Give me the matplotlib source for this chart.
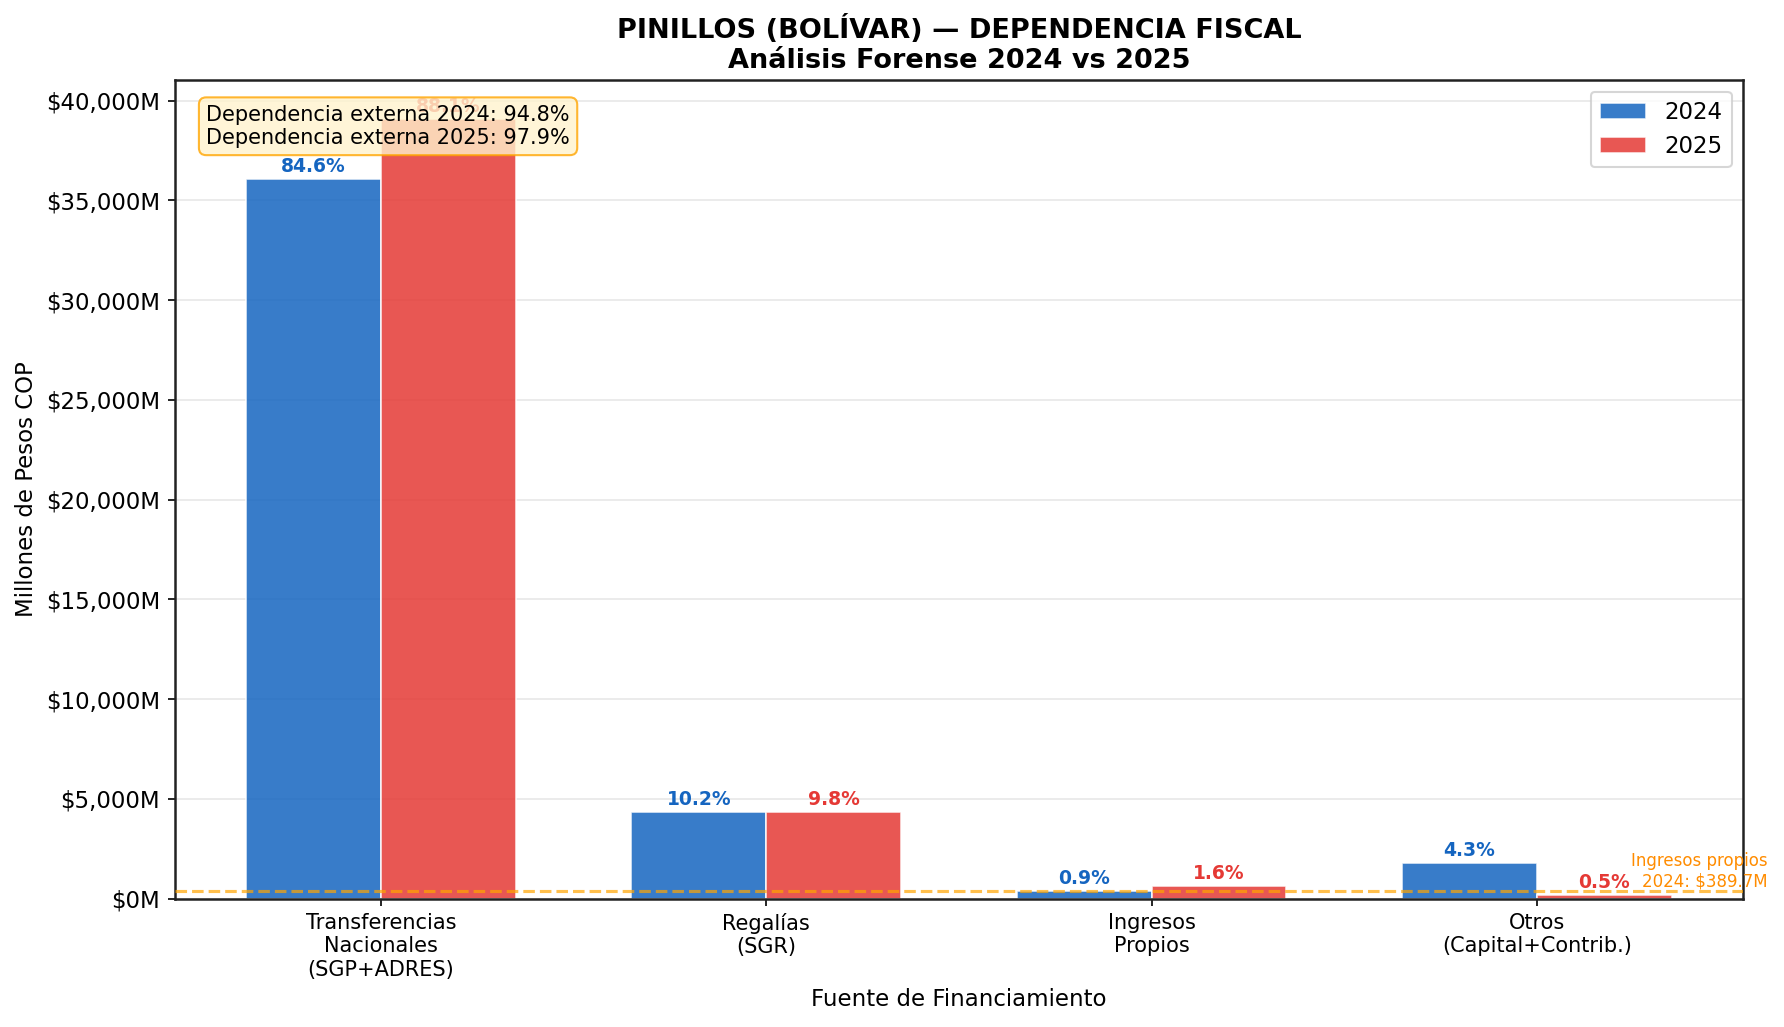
import matplotlib.pyplot as plt
import numpy as np
from matplotlib.ticker import FuncFormatter

# Data (millions of COP)
categorias = ['Transferencias\nNacionales\n(SGP+ADRES)', 'Regalías\n(SGR)',
              'Ingresos\nPropios', 'Otros\n(Capital+Contrib.)']
valores_2024 = [36060, 4330, 389.7, 1800]
valores_2025 = [39070, 4335, 650, 200]
pct_2024 = [84.6, 10.2, 0.9, 4.3]
pct_2025 = [88.1, 9.8, 1.6, 0.5]
dep_externa = {'2024': 94.8, '2025': 97.9}
ingresos_propios_2024 = 389.7

color_2024 = '#1565C0'
color_2025 = '#E53935'

fig, ax = plt.subplots(figsize=(1784 / 150, 1027 / 150), dpi=150)
fig.subplots_adjust(left=0.098, right=0.977, top=0.922, bottom=0.125)

x = np.arange(len(categorias))
w = 0.35

b1 = ax.bar(x - w / 2, valores_2024, w, label='2024', color=color_2024,
            alpha=0.85, edgecolor='white', linewidth=0.8, zorder=2)
b2 = ax.bar(x + w / 2, valores_2025, w, label='2025', color=color_2025,
            alpha=0.85, edgecolor='white', linewidth=0.8, zorder=2)

# percentage labels on top of bars
for rect, p in zip(b1, pct_2024):
    ax.text(rect.get_x() + rect.get_width() / 2, rect.get_height() + 150,
            f'{p:.1f}%', ha='center', va='bottom', fontsize=9,
            fontweight='bold', color=color_2024, zorder=3)
for rect, p in zip(b2, pct_2025):
    ax.text(rect.get_x() + rect.get_width() / 2, rect.get_height() + 150,
            f'{p:.1f}%', ha='center', va='bottom', fontsize=9,
            fontweight='bold', color=color_2025, zorder=3)

# own revenue reference line
ax.axhline(ingresos_propios_2024, color='orange', linestyle='--',
           linewidth=1.5, alpha=0.7, zorder=3)
ax.text(3.6, ingresos_propios_2024,
        f'Ingresos propios\n2024: ${ingresos_propios_2024:,.1f}M',
        ha='right', va='bottom', fontsize=8, color='darkorange',
        multialignment='right')

# external dependency box
ax.text(0.02, 0.97,
        f"Dependencia externa 2024: {dep_externa['2024']}%\n"
        f"Dependencia externa 2025: {dep_externa['2025']}%",
        transform=ax.transAxes, ha='left', va='top', fontsize=10, zorder=5,
        bbox=dict(boxstyle='round,pad=0.35', facecolor='#FFF3CD',
                  edgecolor='orange', alpha=0.8))

ax.set_xticks(x)
ax.set_xticklabels(categorias, fontsize=10)
ax.tick_params(axis='y', labelsize=11)
ax.yaxis.set_major_formatter(FuncFormatter(lambda v, _: f'${v:,.0f}M'))
ax.set_xlabel('Fuente de Financiamiento', fontsize=11)
ax.set_ylabel('Millones de Pesos COP', fontsize=11)
ax.set_title('PINILLOS (BOLÍVAR) — DEPENDENCIA FISCAL\nAnálisis Forense 2024 vs 2025',
             fontsize=13, fontweight='bold')
ax.grid(axis='y', alpha=0.3, zorder=0)
ax.set_axisbelow(True)
ax.legend(loc='upper right', fontsize=11)
for s in ax.spines.values():
    s.set_linewidth(1.2)
    s.set_color('#222222')

fig.savefig('out.png', dpi=150)
